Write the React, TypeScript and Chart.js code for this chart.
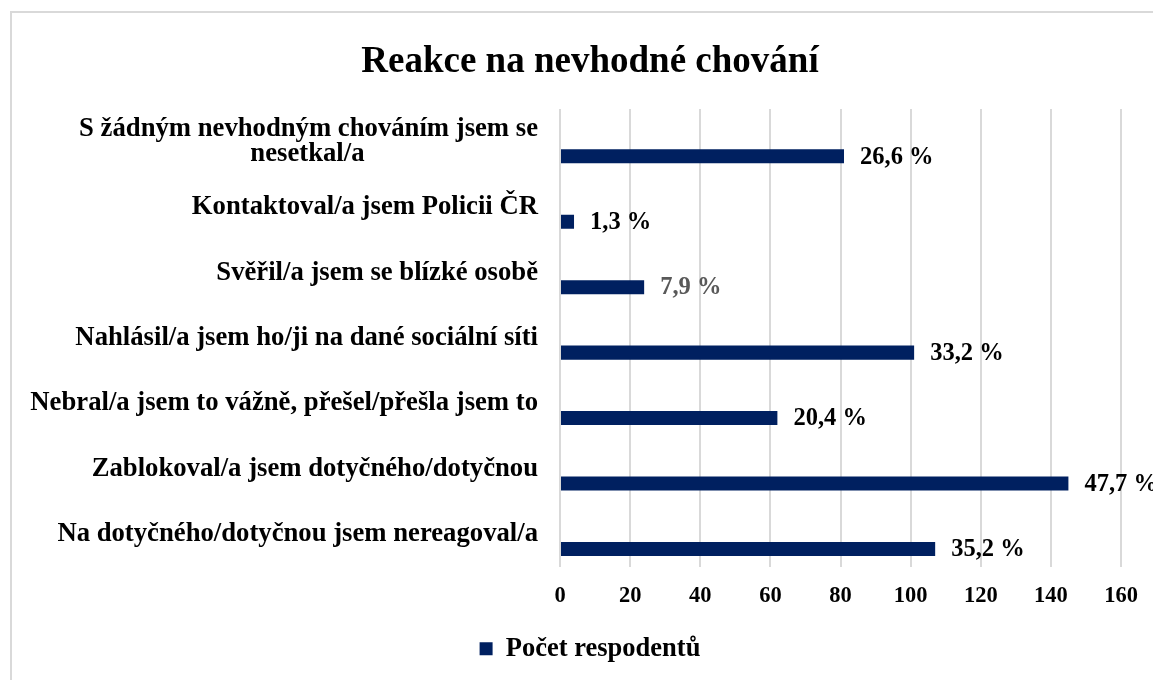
import React, { useEffect, useRef } from "react";
import { Chart, registerables } from "chart.js";

Chart.register(...registerables);

// ---- data ----
const chartTitle = "Reakce na nevhodné chování";
const seriesName = "Počet respodentů";
const categories: (string | string[])[] = [
  ["S žádným nevhodným chováním jsem se", "nesetkal/a"],
  "Kontaktoval/a jsem Policii ČR",
  "Svěřil/a jsem se blízké osobě",
  "Nahlásil/a jsem ho/ji na dané sociální síti",
  "Nebral/a jsem to vážně, přešel/přešla jsem to",
  "Zablokoval/a jsem dotyčného/dotyčnou",
  "Na dotyčného/dotyčnou jsem nereagoval/a",
];
const respondents = [81, 4, 24, 101, 62, 145, 107];
const percentages = [26.6, 1.3, 7.9, 33.2, 20.4, 47.7, 35.2];
const xMin = 0;
const xMax = 160;
const xStep = 20;

// ---- styles ----
const FONT = "'Liberation Serif', 'Times New Roman', serif";
const BAR_COLOR = "#002060";
const GRID_COLOR = "#d9d9d9";
const pctLabelColors = ["#000", "#000", "#595959", "#000", "#000", "#000", "#000"];
const CAT_FONT_SIZE = 26.7;
const CANVAS_W = 1180;
const CANVAS_H = 680;

const measureCtx = document.createElement("canvas").getContext("2d") as CanvasRenderingContext2D;
function centerLines(lines: string[]): string[] {
  measureCtx.font = `bold ${CAT_FONT_SIZE}px ${FONT}`;
  const widths = lines.map((l) => measureCtx.measureText(l).width);
  const max = Math.max(...widths);
  const sp = measureCtx.measureText("\u00a0").width || CAT_FONT_SIZE / 4;
  return lines.map((l, i) => l + "\u00a0".repeat(Math.max(0, Math.round((max - widths[i]) / 2 / sp))));
}

const formatPct = (v: number) => `${v.toFixed(1).replace(".", ",")} %`;

const pctLabelPlugin = {
  id: "pctLabels",
  afterDatasetsDraw(chart: any) {
    const meta = chart.getDatasetMeta(1);
    const ctx = chart.ctx as CanvasRenderingContext2D;
    ctx.save();
    ctx.font = `bold 24.5px ${FONT}`;
    ctx.textBaseline = "middle";
    ctx.textAlign = "left";
    meta.data.forEach((bar: any, i: number) => {
      ctx.fillStyle = pctLabelColors[i];
      ctx.fillText(formatPct(percentages[i]), bar.x + 16, bar.y + 1);
    });
    ctx.restore();
  },
};

export default function App() {
  const canvasRef = useRef<HTMLCanvasElement | null>(null);

  useEffect(() => {
    if (!canvasRef.current) return;
    const chart = new Chart(canvasRef.current, {
      type: "bar",
      data: {
        labels: categories as any,
        datasets: [
          {
            label: "",
            data: categories.map(() => null) as any,
            backgroundColor: "rgba(0,0,0,0)",
            categoryPercentage: 0.886,
            barPercentage: 0.483,
          },
          {
            label: seriesName,
            data: respondents,
            backgroundColor: BAR_COLOR,
            categoryPercentage: 0.886,
            barPercentage: 0.483,
          },
        ],
      },
      options: {
        indexAxis: "y",
        responsive: false,
        animation: false,
        layout: { padding: { left: 0, right: 0, top: 0, bottom: 8 } },
        plugins: {
          title: {
            display: true,
            text: chartTitle,
            color: "#000",
            font: { family: FONT, size: 37, weight: "bold" },
            padding: { top: 40.3, bottom: 24.3 },
          },
          legend: {
            position: "bottom",
            labels: {
              filter: (item: any) => item.datasetIndex === 1,
              color: "#000",
              font: { family: FONT, size: 26.5, weight: "bold" },
              boxWidth: 13,
              boxHeight: 13,
              padding: 10,
            },
          },
          tooltip: { enabled: false },
        },
        scales: {
          x: {
            min: xMin,
            max: xMax,
            ticks: {
              stepSize: xStep,
              color: "#000",
              font: { family: FONT, size: 22.5, weight: "bold" },
              padding: 15.5,
            },
            grid: { color: GRID_COLOR, lineWidth: 2, drawTicks: false },
            border: { display: false },
            afterFit: (s: any) => {
              s.height = 58.25;
            },
          },
          y: {
            grid: { display: false, drawTicks: false },
            border: { display: false },
            ticks: {
              color: "#000",
              font: { family: FONT, size: CAT_FONT_SIZE, weight: "bold", lineHeight: 0.95 },
              padding: 22,
              callback: function (this: any, value: any) {
                const lbl = this.getLabelForValue(value);
                return Array.isArray(lbl) ? centerLines(lbl) : lbl;
              },
            },
            afterFit: (s: any) => {
              s.width = 560;
            },
          },
          yRight: {
            type: "category",
            axis: "y",
            position: "right",
            grid: { display: false, drawTicks: false },
            border: { display: false },
            ticks: { display: false },
            afterFit: (s: any) => {
              s.width = CANVAS_W - 1121;
            },
          },
        },
      },
      plugins: [pctLabelPlugin],
    } as any);
    return () => chart.destroy();
  }, []);

  return (
    <div
      style={{
        position: "fixed",
        left: 0,
        top: 0,
        width: 1153,
        height: 680,
        overflow: "hidden",
        background: "#fff",
      }}
    >
      <div
        style={{
          position: "absolute",
          left: 10,
          top: 11,
          width: 1200,
          height: 720,
          border: `2px solid ${GRID_COLOR}`,
          boxSizing: "border-box",
        }}
      />
      <canvas
        ref={canvasRef}
        width={CANVAS_W}
        height={CANVAS_H}
        style={{ position: "absolute", left: 0, top: 0, width: CANVAS_W, height: CANVAS_H }}
      />
    </div>
  );
}
